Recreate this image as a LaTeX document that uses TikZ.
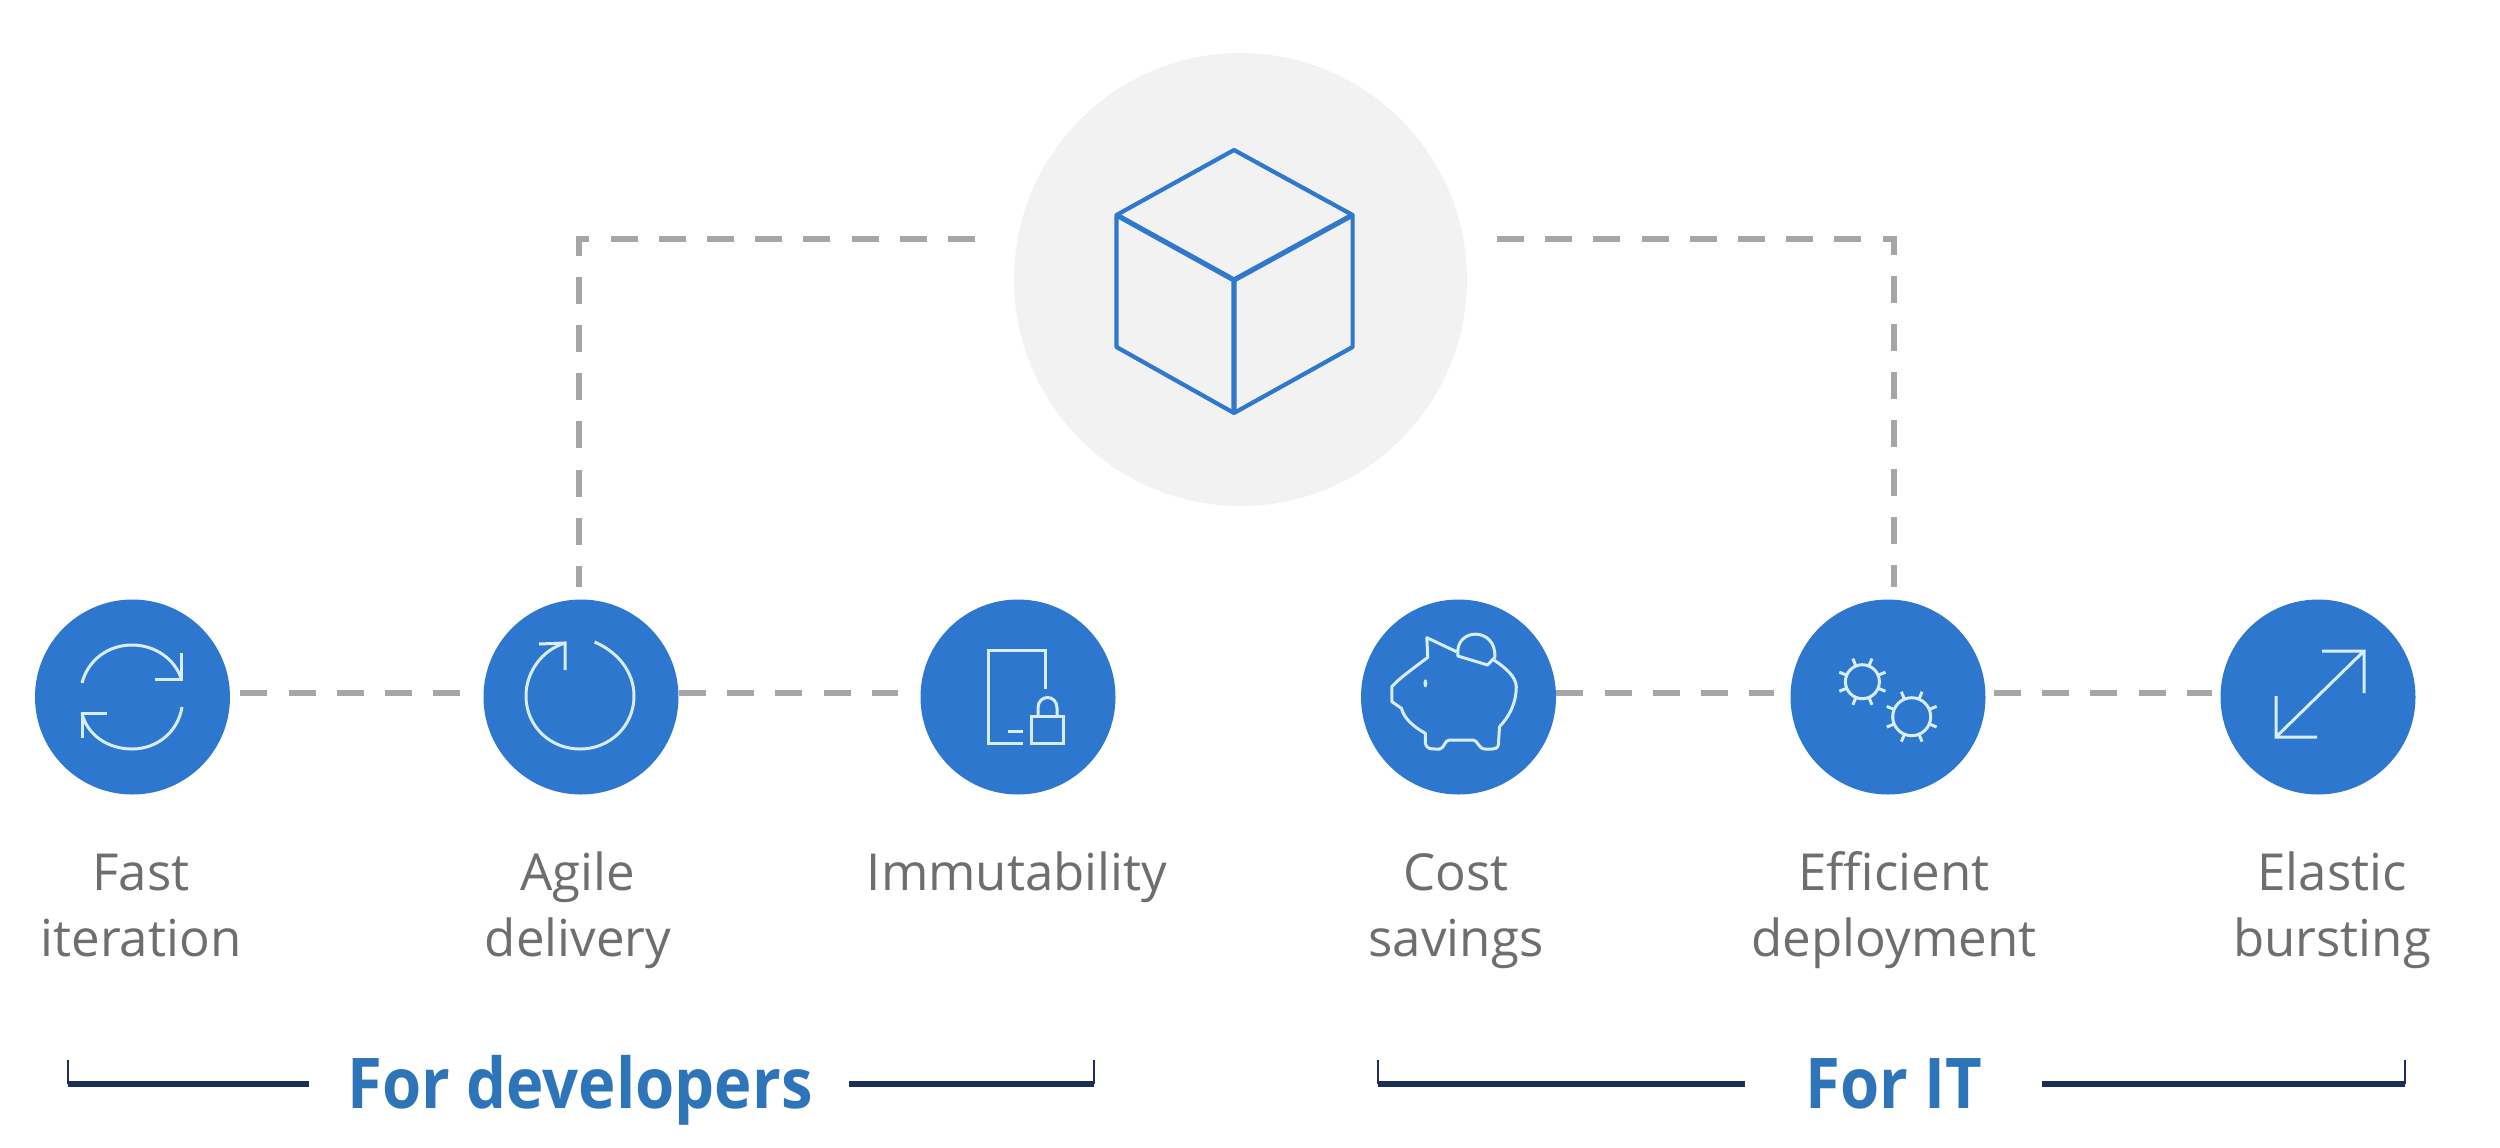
\documentclass[tikz,border=0pt]{standalone}
\usepackage{graphicx}
\usepackage{fontspec}
\setmainfont{Open Sans}
\definecolor{dotblue}{HTML}{2E77CE}
\definecolor{iconline}{HTML}{D8EEFC}
\definecolor{pale}{HTML}{F2F2F2}
\definecolor{cubeblue}{HTML}{2F78CB}
\definecolor{dashgray}{HTML}{A6A6A6}
\definecolor{labelgray}{HTML}{6E6E6E}
\definecolor{navy}{HTML}{1B2F57}
\definecolor{grouptext}{HTML}{2E74B8}
\tikzset{
 dot/.style={circle,fill=dotblue,minimum size=97.5pt,inner sep=0pt},
 icon/.style={draw=iconline,line width=1.5pt,line join=miter},
 link/.style={draw=dashgray,line width=3.4pt,dash pattern=on 13.5pt off 10.6pt},
 lab/.style={text=labelgray,align=center,font=\fontsize{25.5}{33}\selectfont,inner sep=0pt},
 grp/.style={text=grouptext,font=\fontsize{35}{40}\selectfont\bfseries,inner sep=0pt},
 brk/.style={draw=navy,line width=1.1pt},
 brkbar/.style={draw=navy,line width=3pt},
 cubeline/.style={draw=cubeblue,line width=2.1pt,line join=round}
}
\begin{document}
\begin{tikzpicture}[x=.5pt,y=-.5pt]
\useasboundingbox (0,0) rectangle (2500,1147);
\node[circle,fill=pale,minimum size=226.5pt,inner sep=0pt] (big) at (1240.5,279.5) {};
\node[dot] (c1) at (132.5,697) {};
\node[dot] (c2) at (581,697) {};
\node[dot] (c3) at (1018,697) {};
\node[dot] (c4) at (1458.5,697) {};
\node[dot] (c5) at (1888,697) {};
\node[dot] (c6) at (2318,697) {};
% connectors
\coordinate (ltop) at (975,239);
\coordinate (rtop) at (1497,239);
\draw[link,shorten <=5pt,shorten >=11.5pt] ([yshift=2pt]c1.east) -- ([yshift=2pt]c2.west);
\draw[link,shorten >=11pt] ([yshift=2pt]c2.east) -- ([yshift=2pt]c3.west);
\draw[link,shorten >=8pt] ([yshift=2pt]c4.east) -- ([yshift=2pt]c5.west);
\draw[link,shorten <=4pt,shorten >=4pt] ([yshift=2pt]c5.east) -- ([yshift=2pt]c6.west);
\draw[link] (ltop) -| ([xshift=-1pt,yshift=6pt]c2.north);
\draw[link] (rtop) -| ([xshift=3pt,yshift=6pt]c5.north);
% cube
\draw[cubeline] (1234,150)--(1352.6,215)--(1352.6,347)--(1234,413)--(1116.5,347)--(1116.5,215)--cycle;
\draw[cubeline,line width=2.6pt] (1116.5,215)--(1234,280)--(1352.6,215) (1234,280)--(1234,413);
% icon 1
\draw[icon] (82,683) .. controls (88,660) and (108,645) .. (132,645) .. controls (156,645) and (175,660) .. (181,678);
\draw[icon] (181,653)--(181,679)--(155,679);
\draw[icon] (182,707) .. controls (178,732) and (157,749) .. (132,749) .. controls (108,749) and (87,735) .. (82,713);
\draw[icon] (107,713)--(82,713)--(82,738);
% icon 2
\draw[icon] (594.6,642) .. controls (618,652) and (634,672) .. (634,696) .. controls (634,726) and (610,749) .. (580,749) .. controls (550,749) and (526,726) .. (526,696) .. controls (526,672) and (542,650) .. (565,643);
\draw[icon] (539,644)--(565,643)--(565,670);
% icon 3
\draw[icon] (1045,689)--(1045,650)--(988,650)--(988,743)--(1023,743) (1008,731)--(1023,731);
\draw[icon] (1031,716) rectangle (1063,743);
\draw[icon] (1038,716)--(1038,708) .. controls (1038,694) and (1057,694) .. (1057,708)--(1057,716);
% icon 4
\begin{scope}[shift={(880,570)},xscale=1/2.09,yscale=1/3]
\draw[icon,line join=round] (1205,245)--(1143,203)--(1145,262) .. controls (1115,295) and (1085,325) .. (1070,350)--(1070,395)--(1090,415) .. controls (1095,445) and (1115,470) .. (1140,490)--(1140,520) .. controls (1142,535) and (1150,537) .. (1160,537)--(1170,537) .. controls (1180,535) and (1180,510) .. (1190,510)--(1240,510) .. controls (1250,510) and (1250,537) .. (1265,537)--(1280,537) .. controls (1293,537) and (1293,525) .. (1293,515)--(1295,470) .. controls (1315,440) and (1330,400) .. (1330,350) .. controls (1330,320) and (1305,290) .. (1283,270);
\draw[icon,line join=round] (1208,258) .. controls (1200,170) and (1290,170) .. (1285,262)--(1270,285)--cycle;
\fill[iconline] (1140,340) ellipse (2pt and 6pt);
\end{scope}
% icon 5
\foreach \cx/\cy/\r in {1862.4/681.7/17,1911.7/716.7/19}{
 \draw[icon] (\cx,\cy) circle[radius=\r];
 \foreach \a in {22.5,67.5,...,337.5}
  \draw[icon] ({\cx+\r*cos(\a)},{\cy+\r*sin(\a)})--({\cx+(\r+8)*cos(\a)},{\cy+(\r+8)*sin(\a)});
}
% icon 6
\draw[icon] (2322,651)--(2364,651)--(2364,693) (2364,651)--(2276,737) (2276,696)--(2276,737)--(2317,737);
% labels
\node[lab,anchor=base] (t1) at (141,956) {Fast\\iteration};
\node[lab,anchor=base] (t2) at (578,956) {Agile\\delivery};
\node[lab,anchor=base] (t3) at (1017,890) {Immutability};
\node[lab,anchor=base] (t4) at (1456,956) {Cost\\savings};
\node[lab,anchor=base] (t5) at (1894,956) {Efficient\\deployment};
\node[lab,anchor=base] (t6) at (2332,956) {Elastic\\bursting};
\node[grp,anchor=base] (g1) at (580,1108) {\scalebox{0.905}[1]{For developers}};
\node[grp,anchor=base] (g2) at (1894,1108) {\scalebox{0.905}[1]{For IT}};
% brackets
\coordinate (a1) at (68,1084); \coordinate (a2) at (309,1084);
\coordinate (a3) at (849,1084); \coordinate (a4) at (1094,1084);
\coordinate (b1) at (1378,1084); \coordinate (b2) at (1745,1084);
\coordinate (b3) at (2042,1084); \coordinate (b4) at (2405,1084);
\foreach \p/\q in {a1/a2,a3/a4,b1/b2,b3/b4} \draw[brkbar] (\p)--(\q);
\foreach \p in {a1,a4,b1,b4} \draw[brk] (\p)--++(0,-24);
\end{tikzpicture}
\end{document}
